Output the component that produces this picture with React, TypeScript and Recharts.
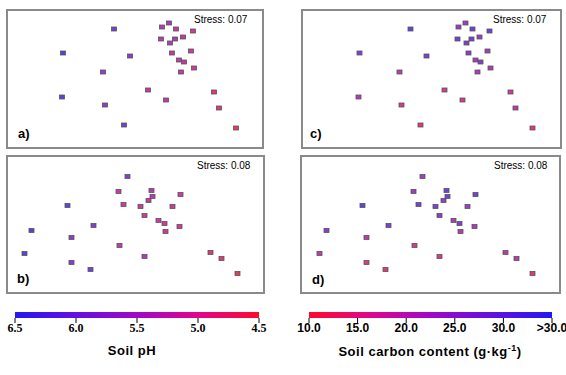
import { ScatterChart, Scatter, XAxis, YAxis, BarChart, Bar } from 'recharts';

// NMDS ordination 1 (panels a, c) - same sample positions
const ORD1_X = [-0.72, -0.73, -0.21, -0.32, -0.05, -0.3, -0.11, 0.13, 0.31, 0.27, 0.34, 0.41, 0.58, 0.26, 0.4, 0.48, 0.35, 0.37, 0.56, 0.44, 0.49, 0.46, 0.59, 0.79, 0.84, 1.01];
const ORD1_Y = [0.26, -0.18, 0.5, 0.07, 0.23, -0.26, -0.46, -0.11, -0.21, 0.52, 0.56, 0.5, 0.48, 0.4, 0.4, 0.42, 0.36, 0.26, 0.28, 0.19, 0.17, 0.07, 0.11, -0.13, -0.29, -0.49];
const PH_1 = [6.5, 6.4, 6.1, 5.8, 5.8, 5.8, 6.1, 5.15, 5.15, 5.3, 5.5, 5.15, 5.05, 5.15, 5.4, 5.15, 5.3, 5.15, 5.05, 5.15, 5.15, 5.15, 5.05, 4.7, 4.65, 4.55];
const C_1 = [27, 20, 32, 19, 29, 15, 13, 15, 15, 23, 23, 31, 31, 30, 29, 23, 28, 26, 23, 21, 28, 21, 21, 17, 19, 12];

// NMDS ordination 2 (panels b, d)
const ORD2_X = [-0.08, -0.17, 0.16, 0.17, 0.13, 0.45, -0.12, 0.05, 0.37, -0.68, 0.09, 0.23, 0.29, 0.44, 0.3, -0.42, -1.04, -0.64, -0.16, 0.09, -1.11, -0.64, -0.45, 0.75, 0.86, 1.02];
const ORD2_Y = [0.48, 0.33, 0.34, 0.28, 0.24, 0.3, 0.2, 0.18, 0.18, 0.19, 0.09, 0.04, 0.01, -0.02, -0.07, -0.01, -0.06, -0.13, -0.21, -0.32, -0.29, -0.38, -0.45, -0.28, -0.34, -0.49];
const PH_2 = [5.9, 5.05, 5.3, 5.35, 5.15, 5.05, 5.05, 5.05, 5.05, 6.3, 5.05, 5.05, 5.05, 5.05, 5.05, 5.9, 6.5, 5.8, 5.15, 5.3, 6.4, 5.9, 6.1, 4.7, 4.65, 4.55];
const C_2 = [23, 23, 31, 29, 24, 30, 30, 28, 23, 32, 26, 21, 28, 21, 20, 28, 27, 19, 15, 15, 19, 14, 13, 19, 19, 12];

const PH_TICKS = [6.5, 6.0, 5.5, 5.0, 4.5];
const C_TICKS = [10, 15, 20, 25, 30, 35];

// blue -> red colour ramp
const STOPS: [number, number[]][] = [
  [0, [36, 24, 240]],
  [0.25, [100, 16, 224]],
  [0.5, [160, 8, 200]],
  [0.75, [224, 6, 140]],
  [1, [255, 10, 42]],
];

const hex = (c: number[]) => '#' + c.map((v) => Math.round(v).toString(16).padStart(2, '0')).join('');

// points look a bit washed out in the original, blend toward a soft grey
const DULL = [175, 175, 190];

const ramp = (t: number, wash = 0) => {
  t = Math.max(0, Math.min(1, t));
  let i = 0;
  while (i < STOPS.length - 2 && t > STOPS[i + 1][0]) i++;
  const [t0, c0] = STOPS[i];
  const [t1, c1] = STOPS[i + 1];
  const f = (t - t0) / (t1 - t0);
  const c = c0.map((v, k) => v + (c1[k] - v) * f).map((v, k) => v + (DULL[k] - v) * wash);
  return hex(c);
};

const phT = (v: number) => (6.5 - v) / 2;
const cT = (v: number) => 1 - (v - 10) / 25;

const build = (xs: number[], ys: number[], vals: number[], toT: (v: number) => number) =>
  xs.map((x, i) => ({ x, y: ys[i], color: ramp(toT(vals[i]), 0.3) }));

const Square = (p: any) => (
  <rect x={p.cx - 2.5} y={p.cy - 2} width={5} height={4} fill={p.payload.color} stroke="#555" strokeWidth={0.8} />
);

const sans = '"Liberation Sans", Arial, sans-serif';

const Panel = ({ left, top, w, h, data, stress, tag, stressLeft, stressTop, tagLeft, tagTop }: any) => (
  <>
    <div style={{ position: 'absolute', left, top, width: w, height: h }}>
      <ScatterChart width={w} height={h} margin={{ top: 0, right: 0, bottom: 0, left: 0 }}>
        <XAxis type="number" dataKey="x" domain={[-w / 200, w / 200]} hide allowDataOverflow />
        <YAxis type="number" dataKey="y" domain={[-h / 200, h / 200]} hide allowDataOverflow />
        <Scatter data={data} shape={Square} isAnimationActive={false} />
      </ScatterChart>
      <div style={{ position: 'absolute', inset: 0, border: '2px solid #8a8a8a', boxSizing: 'border-box', pointerEvents: 'none' }} />
    </div>
    <div style={{ position: 'absolute', left: stressLeft, top: stressTop, fontFamily: sans, fontSize: 10, lineHeight: 1, whiteSpace: 'nowrap' }}>
      Stress: {stress}
    </div>
    <div style={{ position: 'absolute', left: tagLeft, top: tagTop, fontFamily: sans, fontSize: 13, fontWeight: 'bold', lineHeight: 1 }}>
      {tag}
    </div>
  </>
);

const GradDefs = ({ id, reverse }: { id: string; reverse?: boolean }) => {
  const stops = reverse ? [...STOPS].reverse().map(([t, c]) => [1 - t, c] as [number, number[]]) : STOPS;
  return (
    <defs>
      <linearGradient id={id} x1="0" y1="0" x2="1" y2="0">
        {stops.map(([t, c]) => (
          <stop key={t} offset={t} stopColor={hex(c)} />
        ))}
      </linearGradient>
    </defs>
  );
};

export default function App() {
  const a = build(ORD1_X, ORD1_Y, PH_1, phT);
  const c = build(ORD1_X, ORD1_Y, C_1, cT);
  const b = build(ORD2_X, ORD2_Y, PH_2, phT);
  const d = build(ORD2_X, ORD2_Y, C_2, cT);

  return (
    <div style={{ position: 'absolute', left: 0, top: 0, width: 566, height: 375, background: '#fff', overflow: 'hidden' }}>
      <Panel left={6} top={9} w={258} h={140} data={a} stress="0.07" tag="a)" stressLeft={194} stressTop={15} tagLeft={18} tagTop={127} />
      <Panel left={301} top={9} w={261} h={140} data={c} stress="0.07" tag="c)" stressLeft={493} stressTop={15} tagLeft={310} tagTop={127} />
      <Panel left={6} top={155} w={259} h={139} data={b} stress="0.08" tag="b)" stressLeft={197} stressTop={161} tagLeft={17} tagTop={272} />
      <Panel left={300} top={155} w={261} h={139} data={d} stress="0.08" tag="d)" stressLeft={494} stressTop={161} tagLeft={312} tagTop={273} />

      {/* pH colour bar */}
      <div style={{ position: 'absolute', left: 0, top: 300 }}>
        <BarChart layout="vertical" width={280} height={40} data={[{ name: 'pH', span: [4.5, 6.5] }]}
          margin={{ top: 12, right: 21, bottom: 0, left: 15 }} barCategoryGap={0}>
          <GradDefs id="phGrad" />
          <XAxis type="number" domain={[4.5, 6.5]} reversed ticks={PH_TICKS} interval={0}
            tickFormatter={(v: number) => v.toFixed(1)} axisLine={false} tickLine={{ stroke: '#000' }}
            tickSize={5} tickMargin={0} height={22}
            tick={{ fill: '#000', fontFamily: '"Liberation Serif", "Times New Roman", serif', fontWeight: 'bold', fontSize: 12 }} />
          <YAxis type="category" dataKey="name" hide />
          <Bar dataKey="span" fill="url(#phGrad)" isAnimationActive={false} />
        </BarChart>
      </div>
      <div style={{ position: 'absolute', left: 32, width: 200, top: 344, textAlign: 'center', fontFamily: sans, fontSize: 13, fontWeight: 'bold', lineHeight: 1, letterSpacing: 0.5 }}>
        Soil pH
      </div>

      {/* carbon colour bar */}
      <div style={{ position: 'absolute', left: 283, top: 300 }}>
        <BarChart layout="vertical" width={283} height={40} data={[{ name: 'C', span: [10, 35] }]}
          margin={{ top: 12, right: 14, bottom: 0, left: 26 }} barCategoryGap={0}>
          <GradDefs id="cGrad" reverse />
          <XAxis type="number" domain={[10, 35]} ticks={C_TICKS} interval={0}
            tickFormatter={(v: number) => (v === 35 ? '>30.0' : v.toFixed(1))} axisLine={false} tickLine={{ stroke: '#000' }}
            tickSize={5} tickMargin={0} height={22}
            tick={{ fill: '#000', fontFamily: sans, fontWeight: 'bold', fontSize: 12 }} />
          <YAxis type="category" dataKey="name" hide />
          <Bar dataKey="span" fill="url(#cGrad)" isAnimationActive={false} />
        </BarChart>
      </div>
      <div style={{ position: 'absolute', left: 280, width: 300, top: 345, textAlign: 'center', fontFamily: sans, fontSize: 13, fontWeight: 'bold', lineHeight: 1, letterSpacing: 0.5 }}>
        Soil carbon content (g·kg<sup style={{ fontSize: 9, lineHeight: 0 }}>-1</sup>)
      </div>
    </div>
  );
}
